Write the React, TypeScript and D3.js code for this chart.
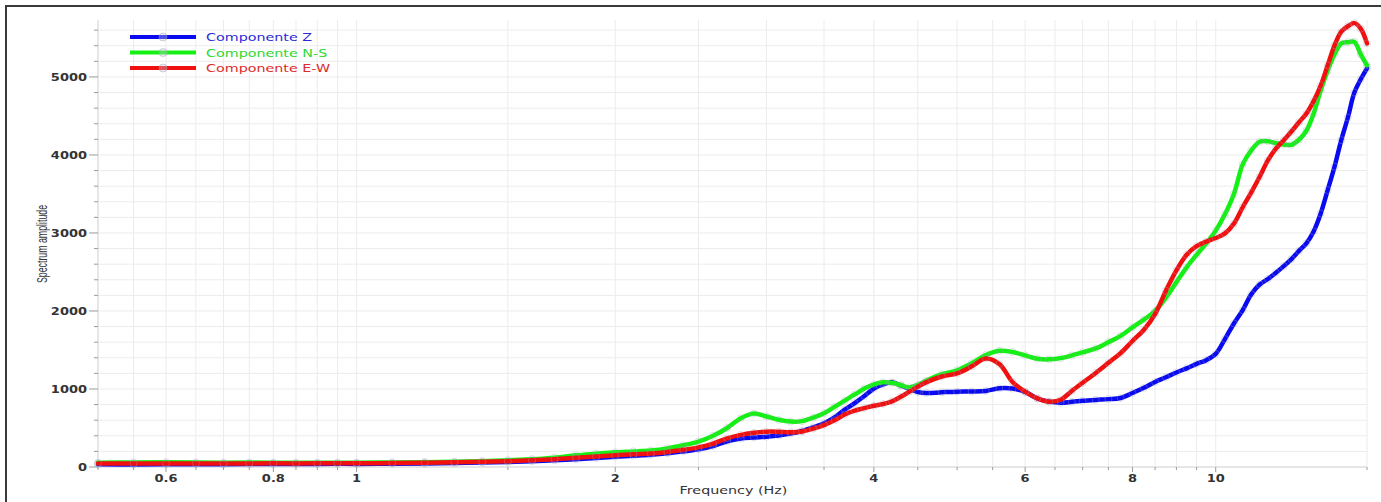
import React, { useEffect, useRef } from "react";
import * as d3 from "d3";

// Frequencies (Hz) at which the three spectra were read
const frequencies = [
  0.5, 0.55, 0.6, 0.65, 0.7, 0.75, 0.8, 0.85, 0.9, 0.95, 1.0, 1.1, 1.2, 1.3, 1.4, 1.5, 1.6, 1.7, 1.8, 1.9,
  2.0, 2.1, 2.2, 2.3, 2.4, 2.5, 2.6, 2.7, 2.8, 2.9, 3.0, 3.1, 3.2, 3.3, 3.4, 3.5, 3.6, 3.7, 3.8, 3.9,
  4.0, 4.1, 4.2, 4.3, 4.4, 4.5, 4.6, 4.8, 5.0, 5.2, 5.4, 5.6, 5.8, 6.0, 6.2, 6.4, 6.6, 6.8, 7.0, 7.25,
  7.5, 7.75, 8.0, 8.25, 8.5, 8.75, 9.0, 9.25, 9.5, 9.75, 10.0, 10.25, 10.5, 10.75, 11.0, 11.25, 11.5,
  11.75, 12.0, 12.25, 12.5, 12.75, 13.0, 13.25, 13.5, 13.75, 14.0, 14.25, 14.5, 14.75, 15.0,
];

const componenteZ = [
  35, 33, 34, 36, 35, 38, 40, 38, 40, 41, 40, 42, 45, 50, 57, 65, 74, 85, 100, 116,
  132, 145, 158, 176, 200, 226, 268, 330, 365, 378, 389, 405, 430, 462, 508, 560, 635, 735, 820, 910,
  1005, 1060, 1085, 1045, 1000, 962, 948, 958, 966, 968, 975, 1008, 1005, 962, 878, 838, 825, 835, 848, 860,
  870, 885, 948, 1015, 1090, 1150, 1212, 1265, 1322, 1370, 1450, 1640, 1840, 2010, 2215, 2340, 2410,
  2490, 2575, 2665, 2770, 2868, 3020, 3250, 3550, 3850, 4190, 4480, 4800, 4970, 5110,
];

const componenteNS = [
  55, 58, 60, 58, 56, 57, 55, 54, 56, 55, 56, 58, 62, 68, 75, 85, 100, 120, 150, 170,
  188, 200, 212, 238, 278, 325, 400, 500, 625, 685, 648, 605, 582, 588, 632, 690, 770, 850, 930, 1005,
  1060, 1085, 1080, 1048, 1020, 1052, 1105, 1190, 1240, 1330, 1435, 1490, 1475, 1430, 1388, 1380, 1396, 1430, 1470, 1520,
  1600, 1680, 1790, 1890, 2000, 2170, 2370, 2560, 2720, 2868, 3030, 3240, 3500, 3880, 4060, 4170, 4175,
  4150, 4135, 4130, 4195, 4310, 4530, 4830, 5080, 5290, 5430, 5445, 5450, 5290, 5150,
];

const componenteEW = [
  45, 44, 46, 45, 44, 46, 47, 46, 47, 48, 48, 50, 55, 60, 67, 75, 87, 100, 118, 135,
  150, 162, 172, 192, 220, 252, 300, 368, 412, 438, 453, 452, 446, 455, 492, 538, 598, 672, 722, 755,
  785, 808, 842, 900, 966, 1030, 1085, 1160, 1200, 1290, 1392, 1320, 1090, 965, 880, 838, 862, 975, 1080, 1205,
  1335, 1460, 1615, 1760, 1960, 2260, 2520, 2720, 2830, 2889, 2935, 2995, 3120, 3330, 3520, 3720, 3930,
  4080, 4190, 4300, 4420, 4530, 4690, 4890, 5150, 5405, 5580, 5650, 5690, 5620, 5430,
];

const seriesNames = ["Componente Z", "Componente N-S", "Componente E-W"];
const seriesColors = ["#0a0af0", "#14f014", "#f01010"];
const legendTextColors = ["#2a2ad6", "#2ed82e", "#de2a2a"];

const xTickLabels = [0.6, 0.8, 1, 2, 4, 6, 8, 10];
const yTickLabels = [0, 1000, 2000, 3000, 4000, 5000];

const W = 1381;
const H = 502;

const App: React.FC = () => {
  const ref = useRef<SVGSVGElement | null>(null);

  useEffect(() => {
    const svg = d3.select(ref.current);
    svg.selectAll("*").remove();

    const margin = { left: 98, right: 14, top: 20, bottom: 35 };
    const font = "'DejaVu Sans', Verdana, sans-serif";

    const x = d3
      .scaleLog()
      .domain([0.5, 15])
      .range([margin.left, W - margin.right]);
    const y = d3
      .scaleLinear()
      .domain([0, 5730])
      .range([H - margin.bottom, margin.top]);

    const x0 = x.range()[0];
    const x1 = x.range()[1];
    const y0 = y(0);
    const yTop = y.range()[1];

    svg.append("rect").attr("width", W).attr("height", H).attr("fill", "#fff");

    // outer frame
    svg
      .append("rect")
      .attr("x", 6)
      .attr("y", 6)
      .attr("width", W + 10)
      .attr("height", H + 10)
      .attr("fill", "none")
      .attr("stroke", "#3a3a3a")
      .attr("stroke-width", 2);

    // minor tick / grid positions
    const xMinor = [
      ...d3.range(0.5, 0.999, 0.05),
      ...d3.range(1, 10.01, 0.5),
      15,
    ];
    const yMinor = d3.range(0, 5700, 200);

    const grid = svg.append("g").attr("stroke", "#ececec").attr("stroke-width", 1);
    grid
      .selectAll("line.v")
      .data(xMinor)
      .enter()
      .append("line")
      .attr("x1", (d) => x(d))
      .attr("x2", (d) => x(d))
      .attr("y1", yTop)
      .attr("y2", y0);
    grid
      .selectAll("line.h")
      .data(yMinor)
      .enter()
      .append("line")
      .attr("x1", x0)
      .attr("x2", x1)
      .attr("y1", (d) => y(d))
      .attr("y2", (d) => y(d));

    // axis lines
    svg
      .append("line")
      .attr("x1", x0)
      .attr("x2", x0)
      .attr("y1", yTop)
      .attr("y2", y0)
      .attr("stroke", "#d8d8d8");
    svg
      .append("line")
      .attr("x1", x0)
      .attr("x2", x1)
      .attr("y1", y0)
      .attr("y2", y0)
      .attr("stroke", "#d8d8d8");

    // ticks
    const ticks = svg.append("g").attr("stroke", "#9a9a9a");
    ticks
      .selectAll("line.ym")
      .data(yMinor)
      .enter()
      .append("line")
      .attr("x1", (d) => (d % 1000 === 0 ? x0 - 9 : x0 - 4))
      .attr("x2", x0)
      .attr("y1", (d) => y(d))
      .attr("y2", (d) => y(d));
    ticks
      .selectAll("line.xm")
      .data(xMinor)
      .enter()
      .append("line")
      .attr("x1", (d) => x(d))
      .attr("x2", (d) => x(d))
      .attr("y1", y0)
      .attr("y2", (d) => (xTickLabels.includes(+d.toFixed(2)) ? y0 + 5 : y0 + 3));

    // tick labels (horizontally stretched like the source)
    svg
      .append("g")
      .selectAll("text")
      .data(yTickLabels)
      .enter()
      .append("text")
      .attr("transform", (d) => `translate(${x0 - 11},${y(d) + 4}) scale(1.3,1)`)
      .attr("text-anchor", "end")
      .attr("font-family", font)
      .attr("font-size", 10)
      .attr("font-weight", "bold")
      .attr("fill", "#333")
      .text((d) => String(d));

    svg
      .append("g")
      .selectAll("text")
      .data(xTickLabels)
      .enter()
      .append("text")
      .attr("transform", (d) => `translate(${x(d)},${y0 + 15}) scale(1.3,1)`)
      .attr("text-anchor", "middle")
      .attr("font-family", font)
      .attr("font-size", 10)
      .attr("font-weight", "bold")
      .attr("fill", "#333")
      .text((d) => String(d));

    // axis titles
    svg
      .append("text")
      .attr("transform", `translate(${(x0 + x1) / 2 + 1},${y0 + 27}) scale(1.3,1)`)
      .attr("text-anchor", "middle")
      .attr("font-family", font)
      .attr("font-size", 11)
      .attr("fill", "#333")
      .text("Frequency (Hz)");

    svg
      .append("text")
      .attr("transform", `translate(47,244) rotate(-90) scale(0.8,1.3)`)
      .attr("text-anchor", "middle")
      .attr("font-family", "'Liberation Sans', Arial, sans-serif")
      .attr("font-size", 11)
      .attr("fill", "#333")
      .text("Spectrum amplitude");

    // series
    const seriesValues = [componenteZ, componenteNS, componenteEW];
    const line = d3
      .line<[number, number]>()
      .x((d) => x(d[0]))
      .y((d) => y(d[1]))
      .curve(d3.curveCatmullRom.alpha(0.5));

    seriesValues.forEach((vals, i) => {
      const pts: [number, number][] = frequencies.map((f, j) => [f, vals[j]]);
      const g = svg.append("g");
      g.append("path")
        .datum(pts)
        .attr("d", line)
        .attr("fill", "none")
        .attr("stroke", seriesColors[i])
        .attr("stroke-width", 4.5)
        .attr("stroke-linejoin", "round")
        .attr("stroke-linecap", "round");
      g.selectAll("circle")
        .data(pts)
        .enter()
        .append("circle")
        .attr("cx", (d) => x(d[0]))
        .attr("cy", (d) => y(d[1]))
        .attr("r", 3.5)
        .attr("fill", "none")
        .attr("stroke", "rgba(160,160,185,0.35)")
        .attr("stroke-width", 1);
    });

    // legend
    const legend = svg.append("g");
    seriesNames.forEach((name, i) => {
      const ly = 37 + i * 15.5;
      legend
        .append("line")
        .attr("x1", 130)
        .attr("x2", 196)
        .attr("y1", ly)
        .attr("y2", ly)
        .attr("stroke", seriesColors[i])
        .attr("stroke-width", 4);
      legend
        .append("circle")
        .attr("cx", 163)
        .attr("cy", ly)
        .attr("r", 4)
        .attr("fill", "rgba(200,200,215,0.35)")
        .attr("stroke", "rgba(160,160,185,0.45)");
      legend
        .append("text")
        .attr("transform", `translate(206,${ly + 4}) scale(1.3,1)`)
        .attr("font-family", font)
        .attr("font-size", 11)
        .attr("fill", legendTextColors[i])
        .text(name);
    });
  }, []);

  return (
    <svg
      ref={ref}
      width={W}
      height={H}
      style={{ position: "absolute", left: 0, top: 0, display: "block" }}
    />
  );
};

export default App;
